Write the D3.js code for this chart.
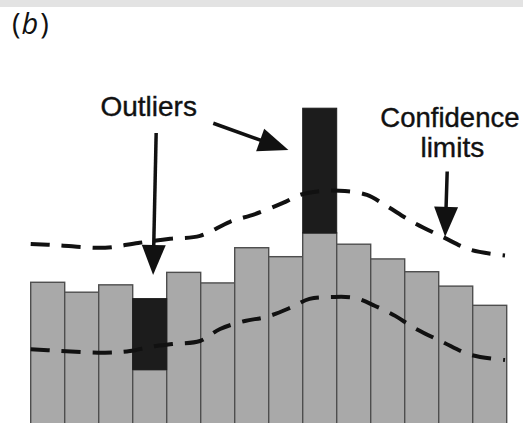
<!DOCTYPE html>
<html>
<head>
<meta charset="utf-8">
<script src="https://cdn.jsdelivr.net/npm/d3@7"></script>
<style>
  html, body { margin: 0; padding: 0; background: #ffffff; }
  svg { display: block; }
</style>
</head>
<body>
<svg id="chart" width="523" height="423"></svg>
<script>
// Bins along the series
const bins = ["1", "2", "3", "4", "5", "6", "7", "8", "9", "10", "11", "12", "13", "14"];
// Expected part of each bar (grey)
const expected = [44.6, 41.5, 43.8, 17.3, 47.7, 44.4, 55.4, 52.6, 60.0, 56.5, 51.9, 47.9, 43.4, 37.4];
// Outlying part stacked on top (black), zero where the bin is normal
const outlying = [0, 0, 0, 22.2, 0, 0, 0, 0, 39.0, 0, 0, 0, 0, 0];

// Confidence limits, sampled along the bin axis (position in bins, value)
const upperPos = [0, 0.78, 2.19, 3.16, 4.1, 4.98, 5.86, 6.6, 7.42, 7.92, 8.57, 9.24, 9.89, 10.42, 11.24, 12.12, 12.95, 13.95];
const upperVal = [56.6, 56.2, 55.4, 56.9, 58.2, 59.1, 63.5, 65.9, 69.4, 71.9, 73.1, 73.1, 71.9, 68.75, 63.4, 58.75, 54.7, 53.0];
const lowerPos = [0, 0.78, 2.19, 2.92, 3.5, 4.17, 4.98, 5.57, 6.3, 6.92, 7.63, 8.2, 8.86, 9.54, 10.13, 10.72, 11.24, 12.12, 12.95, 13.95];
const lowerVal = [23.7, 23.2, 22.6, 23.1, 24.4, 25.3, 26.25, 30.0, 32.5, 33.75, 36.6, 39.4, 40.0, 39.7, 37.2, 34.1, 30.6, 25.9, 21.9, 20.3];

const svg = d3.select("#chart");
const W = 523, H = 423;

// Scales
const x = d3.scaleBand().domain(bins).range([30.7, 506.7]).padding(0);
const xPos = d3.scaleLinear().domain([0, bins.length]).range([30.7, 506.7]);
const y = d3.scaleLinear().domain([0, 100]).range([425, 105]);

// Top strip
svg.append("rect").attr("x", 0).attr("y", 0).attr("width", W).attr("height", 7).attr("fill", "#e3e3e3");

// Panel label
const lab = svg.append("text")
  .attr("x", 12).attr("y", 34)
  .attr("font-family", "'Open Sans', 'DejaVu Sans', sans-serif")
  .attr("font-size", 29)
  .attr("fill", "#111");
lab.append("tspan").text("(");
lab.append("tspan").attr("font-style", "italic").attr("dx", 1).text("b");
lab.append("tspan").attr("dx", 2).text(")");

// Grey bars
svg.append("g").selectAll("rect")
  .data(bins)
  .join("rect")
  .attr("x", d => x(d))
  .attr("width", x.bandwidth())
  .attr("y", (d, i) => y(expected[i]))
  .attr("height", (d, i) => y(0) - y(expected[i]))
  .attr("fill", "#a9a9a9")
  .attr("stroke", "#4e4e4e")
  .attr("stroke-width", 1.4);

// Black outlier segments
svg.append("g").selectAll("rect")
  .data(bins.filter((d, i) => outlying[i] > 0))
  .join("rect")
  .attr("x", d => x(d))
  .attr("width", x.bandwidth())
  .attr("y", d => { const i = bins.indexOf(d); return y(expected[i] + outlying[i]); })
  .attr("height", d => { const i = bins.indexOf(d); return y(expected[i]) - y(expected[i] + outlying[i]); })
  .attr("fill", "#1c1c1c")
  .attr("stroke", "#1c1c1c")
  .attr("stroke-width", 1);

// Dashed confidence limits
const line = d3.line().x(d => xPos(d[0])).y(d => y(d[1])).curve(d3.curveCatmullRom.alpha(0.5));
[[upperPos, upperVal], [lowerPos, lowerVal]].forEach(([p, v]) => {
  svg.append("path")
    .datum(p.map((pp, i) => [pp, v[i]]))
    .attr("d", line)
    .attr("fill", "none")
    .attr("stroke", "#111")
    .attr("stroke-width", 4)
    .attr("stroke-dasharray", "19 12");
});

// Arrows with filled heads
function arrow(x1, y1, x2, y2) {
  const sx = xPos(x1), sy = y(y1), tx = xPos(x2), ty = y(y2);
  const ang = Math.atan2(ty - sy, tx - sx);
  const len = 30, half = 12;
  const bx = tx - len * Math.cos(ang), by = ty - len * Math.sin(ang);
  svg.append("line")
    .attr("x1", sx).attr("y1", sy).attr("x2", bx + 4 * Math.cos(ang)).attr("y2", by + 4 * Math.sin(ang))
    .attr("stroke", "#111").attr("stroke-width", 3.5);
  const px = -Math.sin(ang), py = Math.cos(ang);
  svg.append("path")
    .attr("d", `M${tx},${ty}L${bx + half * px},${by + half * py}L${bx - half * px},${by - half * py}Z`)
    .attr("fill", "#111");
}
arrow(3.69, 91.25, 3.6, 46.9);
arrow(5.37, 94.3, 7.58, 85.9);
arrow(12.25, 79.2, 12.19, 58.8);

// Annotation text
const txt = svg.append("g")
  .attr("font-family", "'Liberation Sans', Arial, sans-serif")
  .attr("font-size", 28)
  .attr("fill", "#111")
  .attr("stroke", "#111")
  .attr("stroke-width", 0.4)
  .attr("text-anchor", "middle");
txt.append("text").attr("x", xPos(3.47)).attr("y", y(96.5)).text("Outliers");
txt.append("text").attr("x", xPos(12.33)).attr("y", y(93.0)).attr("font-size", 27.5).text("Confidence");
txt.append("text").attr("x", xPos(12.4)).attr("y", y(83.6)).text("limits");
</script>
</body>
</html>
